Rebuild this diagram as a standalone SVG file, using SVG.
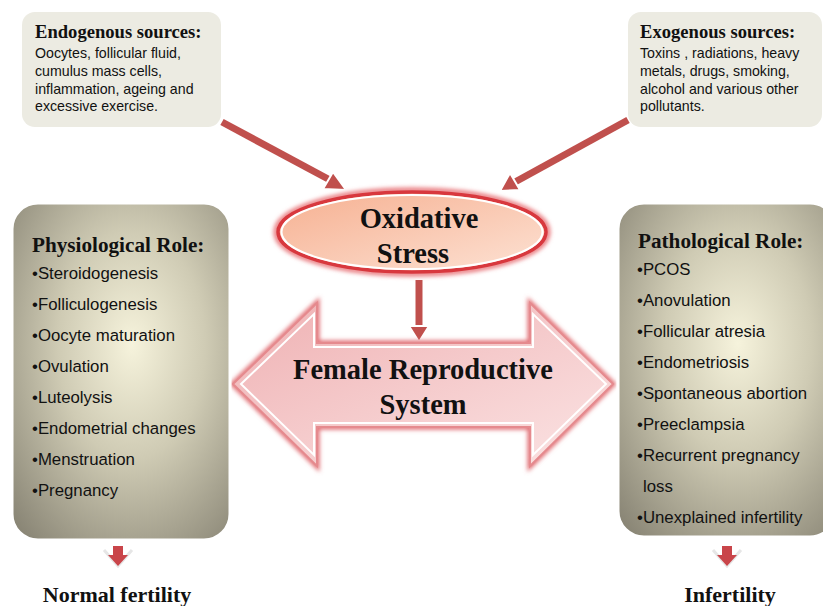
<svg xmlns="http://www.w3.org/2000/svg" width="823" height="606" viewBox="0 0 823 606">
<defs>
<style>
.src{fill:#ecebe2;}
.ttl{font-family:"Liberation Serif","Times New Roman",serif;font-weight:bold;fill:#111;}
.body{font-family:"Liberation Sans",Arial,sans-serif;font-size:14.2px;fill:#111;}
.item{font-family:"Liberation Sans",Arial,sans-serif;font-size:16.8px;fill:#111;}
.shaft{stroke:#c0504d;stroke-width:7;fill:none;}
.shaftw{stroke:#ffffff;stroke-width:11;fill:none;}
.head{fill:#c0504d;stroke:#ffffff;stroke-width:2;}
</style>
<radialGradient id="roleG" cx="0.55" cy="0.42" r="0.75">
<stop offset="0" stop-color="#f6f3dc"/>
<stop offset="0.45" stop-color="#cfcbb4"/>
<stop offset="1" stop-color="#8a8676"/>
</radialGradient>
<linearGradient id="ovG" x1="0" y1="0" x2="1" y2="1">
<stop offset="0" stop-color="#f6b091"/>
<stop offset="1" stop-color="#fde2d4"/>
</linearGradient>
<linearGradient id="dbG" x1="0" y1="0" x2="1" y2="1">
<stop offset="0" stop-color="#efb1b3"/>
<stop offset="1" stop-color="#fbe4e4"/>
</linearGradient>
<filter id="glow" x="-20%" y="-20%" width="140%" height="140%">
<feGaussianBlur stdDeviation="2"/>
</filter>
</defs>

<g id="endogenous">
<rect class="src" x="22" y="12" width="199" height="115" rx="13"/>
<text class="ttl" x="35" y="38" font-size="18.6">Endogenous sources:</text>
<text class="body" x="35" y="58">Oocytes, follicular fluid,</text>
<text class="body" x="35" y="76">cumulus mass cells,</text>
<text class="body" x="35" y="94">inflammation, ageing and</text>
<text class="body" x="35" y="111">excessive exercise.</text>
</g>

<g id="exogenous">
<rect class="src" x="628" y="12" width="194" height="115" rx="13"/>
<text class="ttl" x="640" y="38" font-size="18.6">Exogenous sources:</text>
<text class="body" x="640" y="58">Toxins , radiations, heavy</text>
<text class="body" x="640" y="76">metals, drugs, smoking,</text>
<text class="body" x="640" y="94">alcohol and various  other</text>
<text class="body" x="640" y="111">pollutants.</text>
</g>

<g id="connectors">
<line class="shaftw" x1="222" y1="122" x2="330" y2="180"/>
<line class="shaft" x1="222" y1="122" x2="330" y2="180"/>
<polygon class="head" points="346,190 323,189 333,172"/>
<line class="shaftw" x1="628" y1="120" x2="515" y2="182"/>
<line class="shaft" x1="628" y1="120" x2="515" y2="182"/>
<polygon class="head" points="500,191 510,173 520,190"/>
<line class="shaftw" x1="419" y1="280" x2="419" y2="328"/>
<line class="shaft" x1="419" y1="280" x2="419" y2="328"/>
<polygon class="head" points="409,326 429,326 419,342"/>
<polyline points="104,550 118,566 132,550" fill="none" stroke="#e6e6e6" stroke-width="3"/>
<rect x="113" y="546" width="10" height="10" fill="#c9454a"/>
<polygon points="108,555 128,555 118,566" fill="#c9454a"/>
<polyline points="713,550 727,566 741,550" fill="none" stroke="#e6e6e6" stroke-width="3"/>
<rect x="722" y="546" width="10" height="10" fill="#c9454a"/>
<polygon points="717,555 737,555 727,566" fill="#c9454a"/>
</g>

<g id="oxidative-stress">
<ellipse cx="412" cy="232" rx="136" ry="42" fill="none" stroke="#e8767a" stroke-width="5" filter="url(#glow)"/>
<ellipse cx="412" cy="232" rx="134" ry="40" fill="url(#ovG)" stroke="#d8383e" stroke-width="3.5"/>
<ellipse cx="412" cy="232" rx="130.5" ry="37" fill="none" stroke="#ffffff" stroke-width="2"/>
<text class="ttl" x="419" y="228" font-size="28.5" text-anchor="middle">Oxidative</text>
<text class="ttl" x="413" y="263" font-size="28.5" text-anchor="middle">Stress</text>
</g>

<g id="female-reproductive-system">
<polygon points="233,384 317,303 317,343 530,343 530,303 613,384 530,466 530,427 317,427 317,466" fill="none" stroke="#e06a70" stroke-width="5" filter="url(#glow)"/>
<polygon points="233,384 317,303 317,343 530,343 530,303 613,384 530,466 530,427 317,427 317,466" fill="url(#dbG)" stroke="#e58a8e" stroke-width="2"/>
<polygon points="241,384 314,314 314,347 533,347 533,314 606,384 533,455 533,423 314,423 314,455" fill="none" stroke="#ffffff" stroke-width="2"/>
<text class="ttl" x="423" y="379" font-size="28.5" text-anchor="middle">Female Reproductive</text>
<text class="ttl" x="423" y="414" font-size="28.5" text-anchor="middle">System</text>
</g>

<g id="physiological-role">
<rect x="12" y="203" width="218" height="337" rx="26" fill="url(#roleG)" stroke="#ffffff" stroke-width="3"/>
<text class="ttl" x="32" y="252" font-size="21.2">Physiological Role:</text>
<text class="item" x="32" y="279">•Steroidogenesis</text>
<text class="item" x="32" y="310">•Folliculogenesis</text>
<text class="item" x="32" y="341">•Oocyte maturation</text>
<text class="item" x="32" y="372">•Ovulation</text>
<text class="item" x="32" y="403">•Luteolysis</text>
<text class="item" x="32" y="434">•Endometrial  changes</text>
<text class="item" x="32" y="465">•Menstruation</text>
<text class="item" x="32" y="496">•Pregnancy</text>
</g>

<g id="pathological-role">
<rect x="618" y="203" width="218" height="334" rx="26" fill="url(#roleG)" stroke="#ffffff" stroke-width="3"/>
<text class="ttl" x="638" y="248" font-size="21.2">Pathological Role:</text>
<text class="item" x="637" y="275">•PCOS</text>
<text class="item" x="637" y="306">•Anovulation</text>
<text class="item" x="637" y="337">•Follicular atresia</text>
<text class="item" x="637" y="368">•Endometriosis</text>
<text class="item" x="637" y="399">•Spontaneous abortion</text>
<text class="item" x="637" y="430">•Preeclampsia</text>
<text class="item" x="637" y="461">•Recurrent pregnancy</text>
<text class="item" x="643" y="492">loss</text>
<text class="item" x="637" y="523">•Unexplained infertility</text>
</g>

<g id="normal-fertility">
<text class="ttl" x="117" y="602" font-size="22" text-anchor="middle">Normal fertility</text>
</g>
<g id="infertility">
<text class="ttl" x="730" y="602" font-size="22" text-anchor="middle">Infertility</text>
</g>
</svg>
